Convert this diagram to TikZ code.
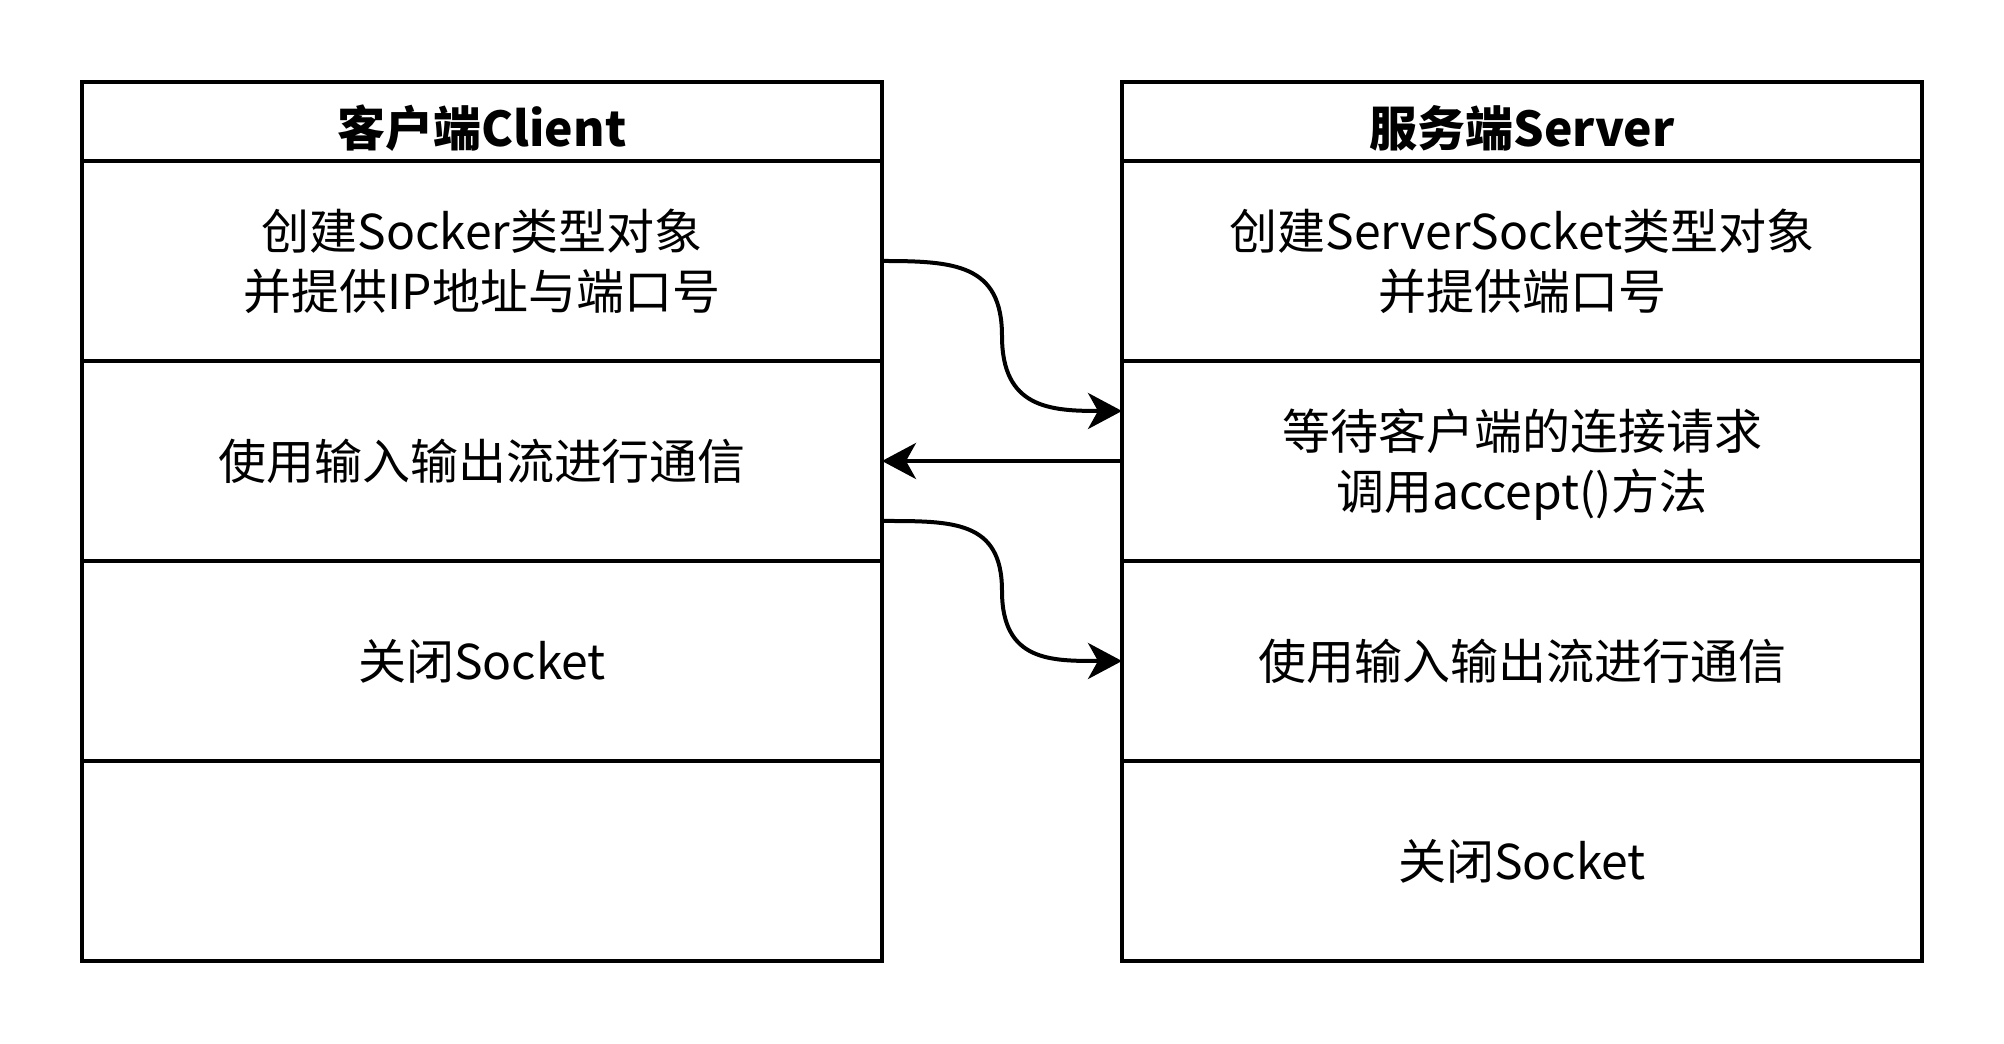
\documentclass[tikz,border=0pt]{standalone}
\usepackage{fontspec}
\setmainfont{Noto Sans CJK SC}
\usepackage{tikz}
\usetikzlibrary{arrows.meta,positioning,calc}
\tikzset{
  head/.style={rectangle, draw=black, fill=white, line width=2pt, outer sep=0pt, minimum width=400pt, minimum height=39.5pt, inner sep=0pt, text height=26pt, text depth=0.5pt, align=center, font=\fontsize{24}{30}\selectfont\bfseries},
  row/.style={rectangle, draw=black, fill=white, line width=2pt, outer sep=0pt, minimum width=400pt, minimum height=100pt, inner sep=0pt, align=center, font=\fontsize{24}{30}\selectfont},
  flow/.style={-{Stealth[length=17pt,width=18pt,inset=5pt]}, line width=2pt, draw=black},
}

\begin{document}
\begin{tikzpicture}[node distance=0pt]
  \useasboundingbox (0,0) rectangle (1002pt,522pt);
  % client side
  \node[head, anchor=north west] (chead) at (41pt,481pt) {客户端Client};
  \node[row, below=of chead] (cnew) {创建Socker类型对象\\并提供IP地址与端口号};
  \node[row, below=of cnew] (cstream) {使用输入输出流进行通信};
  \node[row, below=of cstream] (cclose) {关闭Socket};
  \node[row, below=of cclose] (cempty) {};
  % server side
  \node[head, right=120pt of chead] (shead) {服务端Server};
  \node[row, below=of shead] (snew) {创建ServerSocket类型对象\\并提供端口号};
  \node[row, below=of snew] (swait) {等待客户端的连接请求\\调用\smash{accept()}方法};
  \node[row, below=of swait] (sstream) {使用输入输出流进行通信};
  \node[row, below=of sstream] (sclose) {关闭Socket};
  % connectors
  \coordinate (wait in) at ($(swait.north west)!0.25!(swait.south west)$);
  \coordinate (bend1) at ($(cnew.east)!0.5!(wait in)$);
  \draw[flow] (cnew.east) to[out=0,in=90,looseness=1.3] (bend1) to[out=-90,in=180,looseness=1.3] (wait in);
  \draw[flow] (swait.west) -- (cstream.east);
  \coordinate (stream out) at ($(cstream.north east)!0.8!(cstream.south east)$);
  \coordinate (bend2) at ($(stream out)!0.5!(sstream.west)$);
  \draw[flow] (stream out) to[out=0,in=90,looseness=1.3] (bend2) to[out=-90,in=180,looseness=1.3] (sstream.west);
\end{tikzpicture}
\end{document}
